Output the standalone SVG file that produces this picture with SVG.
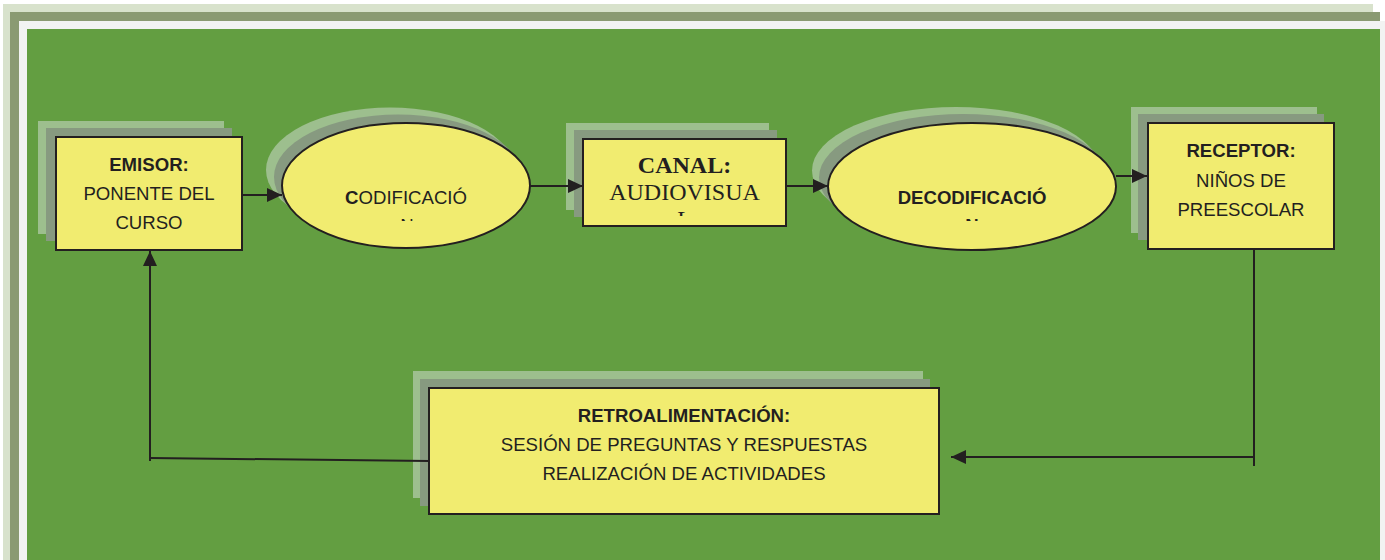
<svg xmlns="http://www.w3.org/2000/svg" width="1385" height="560" viewBox="0 0 1385 560">
<style>
.box{fill:#f1ec70;stroke:#231f20;stroke-width:2}
.sh1{fill:#9dbf8e}
.sh2{fill:#879a80}
.t{font-family:"Liberation Sans",Arial,sans-serif;font-size:18.6px;fill:#231f20;text-anchor:middle}
.b{font-weight:bold}
.serif{font-family:"Liberation Serif","Times New Roman",serif;font-size:24px;fill:#231f20;text-anchor:middle}
.ln{fill:none;stroke:#231f20;stroke-width:2}
</style>
<defs>
<marker id="ah" markerUnits="userSpaceOnUse" markerWidth="16" markerHeight="14" refX="15" refY="7" orient="auto">
<path d="M0,0 L15,7 L0,14 Z" fill="#231f20"/>
</marker>
<clipPath id="c1"><rect x="280" y="120" width="250" height="101"/></clipPath>
<clipPath id="c2"><rect x="583" y="139" width="203" height="77"/></clipPath>
<clipPath id="c3"><rect x="828" y="120" width="288" height="101"/></clipPath>
</defs>
<!-- frame -->
<rect x="3" y="4" width="1370" height="560" fill="#d8e2cc"/>
<rect x="10" y="12" width="1370" height="560" fill="#8a9a72"/>
<rect x="19" y="21" width="1366" height="540" fill="#f2f3f2"/>
<rect x="27" y="29" width="1353" height="535" fill="#639e41"/>

<g id="emisor">
<rect class="sh1" x="38" y="121" width="186" height="113"/>
<rect class="sh2" x="46" y="128" width="186" height="113"/>
<rect class="box" x="56" y="137" width="186" height="113"/>
<text class="t b" x="149" y="171">EMISOR:</text>
<text class="t" x="149" y="200">PONENTE DEL</text>
<text class="t" x="149" y="229">CURSO</text>
</g>

<g id="codificacion">
<ellipse class="sh1" cx="390" cy="170" rx="124" ry="62.5"/>
<ellipse class="sh2" cx="398" cy="177" rx="124" ry="62.5"/>
<ellipse class="box" cx="406" cy="185.5" rx="124" ry="62.5"/>
<g clip-path="url(#c1)">
<text class="t" x="406" y="204"><tspan class="b">C</tspan>ODIFICACIÓ</text>
<text class="t" x="407" y="232">N</text>
</g>
</g>

<g id="canal">
<rect class="sh1" x="566" y="123" width="203" height="87"/>
<rect class="sh2" x="574" y="130" width="203" height="87"/>
<rect class="box" x="583" y="139" width="203" height="87"/>
<g clip-path="url(#c2)">
<text class="serif" x="684.5" y="173" font-weight="bold">CANAL:</text>
<text class="serif" x="684.5" y="200">AUDIOVISUA</text>
<text class="serif" x="684.5" y="227">L</text>
</g>
</g>

<g id="decodificacion">
<ellipse class="sh1" cx="956" cy="170.5" rx="144" ry="63.5"/>
<ellipse class="sh2" cx="963" cy="177.5" rx="144" ry="63.5"/>
<ellipse class="box" cx="972" cy="186.5" rx="144" ry="63.5"/>
<g clip-path="url(#c3)">
<text class="t b" x="972" y="204">DECODIFICACIÓ</text>
<text class="t b" x="972" y="232">N</text>
</g>
</g>

<g id="receptor">
<rect class="sh1" x="1131" y="107" width="186" height="126"/>
<rect class="sh2" x="1138" y="114" width="186" height="126"/>
<rect class="box" x="1148" y="123" width="186" height="126"/>
<text class="t b" x="1241" y="157">RECEPTOR:</text>
<text class="t" x="1241" y="187">NIÑOS DE</text>
<text class="t" x="1241" y="216">PREESCOLAR</text>
</g>

<g id="retroalimentacion">
<rect class="sh1" x="413" y="371" width="510" height="127"/>
<rect class="sh2" x="420" y="379" width="510" height="127"/>
<rect class="box" x="429" y="388" width="510" height="126"/>
<text class="t b" x="684" y="422">RETROALIMENTACIÓN:</text>
<text class="t" x="684" y="451">SESIÓN DE PREGUNTAS Y RESPUESTAS</text>
<text class="t" x="684" y="480">REALIZACIÓN DE ACTIVIDADES</text>
</g>

<g id="connectors">
<path class="ln" d="M242,195 L282,195" marker-end="url(#ah)"/>
<path class="ln" d="M530,186 L583,186" marker-end="url(#ah)"/>
<path class="ln" d="M786,186 L828,186" marker-end="url(#ah)"/>
<path class="ln" d="M1116,176 L1147,176" marker-end="url(#ah)"/>
<path class="ln" d="M1254,249 L1254,466"/>
<path class="ln" d="M1254,457 L951,457" marker-end="url(#ah)"/>
<path class="ln" d="M429,461 L150,458"/>
<path class="ln" d="M150,461 L150,251" marker-end="url(#ah)"/>
</g>
</svg>
